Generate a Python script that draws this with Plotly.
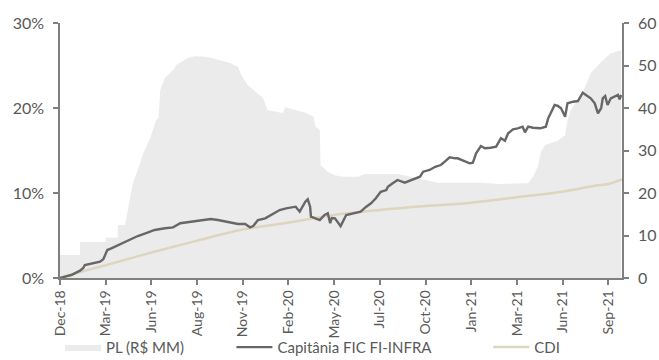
import plotly.graph_objects as go

# Trading-day index (0 = Dec-18) and month labels placed every 57 sessions
tick_days = [0, 57, 114, 171, 228, 285, 342, 399, 456, 513, 570, 627, 684]
tick_labels = ["Dec-18", "Mar-19", "Jun-19", "Aug-19", "Nov-19", "Feb-20", "May-20",
               "Jul-20", "Oct-20", "Jan-21", "Mar-21", "Jun-21", "Sep-21"]

# Fund net assets, R$ millions (right axis)
pl_days = [0, 25, 25, 57, 57, 72, 72, 81, 83, 91, 97, 104, 113, 120, 123, 125, 131, 141, 145,
           160, 168, 178, 188, 197, 212, 222, 226, 234, 244, 253, 259, 268, 278, 281, 293, 306,
           316, 319, 324, 325, 334, 343, 353, 372, 380, 421, 438, 455, 471, 527, 546, 584, 590,
           596, 600, 605, 621, 630, 633, 637, 646, 655, 662, 675, 687, 700]
pl_values = [5.4, 5.4, 8.5, 8.5, 9.5, 9.5, 12.5, 12.5, 14.4, 22.4, 25.4, 29.4, 33.2, 37.2, 37.6,
             44.2, 47.1, 48.9, 50.1, 51.8, 52.2, 52.1, 51.8, 51.3, 50.6, 49.7, 47.8, 45.4, 43.8,
             42.4, 39.5, 39.1, 38.8, 40.2, 39.5, 38.9, 38.0, 35.6, 34.8, 26.6, 25.0, 24.2, 23.8,
             23.8, 24.5, 24.5, 23.8, 23.1, 22.4, 22.4, 22.1, 22.3, 23.8, 26.2, 29.7, 31.3, 32.3,
             33.6, 37.2, 39.5, 41.9, 45.0, 48.2, 50.9, 52.9, 53.6]

# Cumulative return of Capitânia FIC FI-INFRA, % (left axis)
fund_days = [0, 14, 25, 29, 31, 39, 50, 54, 56, 59, 64, 76, 87, 97, 110, 118, 131, 141, 150, 160,
             172, 181, 188, 197, 207, 213, 222, 231, 237, 241, 247, 256, 263, 274, 282, 294, 299,
             306, 309, 312, 313, 319, 324, 330, 334, 337, 339, 343, 350, 357, 368, 375, 382, 388,
             394, 400, 407, 409, 415, 421, 430, 440, 449, 453, 461, 468, 475, 480, 486, 493, 496,
             503, 511, 515, 519, 525, 530, 537, 544, 550, 555, 559, 565, 571, 577, 580, 584, 590,
             599, 606, 609, 612, 617, 621, 625, 630, 633, 640, 646, 652, 656, 662, 667, 671, 675,
             677, 680, 683, 687, 692, 696, 698, 700]
fund_values = [0.0, 0.35, 0.86, 1.18, 1.53, 1.73, 1.92, 2.2, 2.71, 3.29, 3.49, 4.0, 4.47, 4.94,
               5.38, 5.65, 5.85, 5.96, 6.44, 6.55, 6.71, 6.82, 6.94, 6.82, 6.62, 6.51, 6.35, 6.35,
               5.96, 6.12, 6.82, 7.02, 7.41, 8.0, 8.2, 8.39, 7.8, 8.98, 9.26, 8.39, 7.21, 7.02,
               6.82, 7.41, 7.61, 6.44, 7.06, 7.02, 6.1, 7.41, 7.68, 7.8, 8.39, 8.79, 9.38, 10.15,
               10.35, 10.74, 11.14, 11.53, 11.21, 11.61, 11.92, 12.51, 12.71, 13.09, 13.29, 13.68,
               14.2, 14.08, 14.08, 13.8, 13.49, 13.56, 14.67, 15.53, 15.26, 15.33, 15.45, 16.44,
               16.15, 17.02, 17.49, 17.61, 17.8, 17.14, 17.8, 17.68, 17.61, 17.8, 18.79, 19.38,
               20.35, 20.24, 19.96, 18.98, 20.55, 20.74, 20.82, 21.8, 21.53, 21.14, 20.55, 19.38,
               20.0, 21.14, 21.41, 20.35, 21.14, 21.33, 21.53, 21.02, 21.53]

# Cumulative CDI, % (left axis)
cdi_days = [0, 29, 57, 114, 171, 228, 284, 337, 399, 456, 513, 570, 626, 667, 684, 701]
cdi_values = [0.0, 0.8, 1.5, 3.0, 4.4, 5.7, 6.5, 7.35, 8.0, 8.47, 8.86, 9.5, 10.15, 10.85, 11.06, 11.6]

FONT = "Lato"
AXIS = "#808080"
TEXT = "#595959"

fig = go.Figure()

# Net assets sit on the base axis (drawn first, underneath); returns go on the overlay axis
fig.add_trace(go.Scatter(
    x=pl_days, y=pl_values, name="PL (R$ MM)", yaxis="y",
    mode="lines", line=dict(width=0, color="#ebebeb"),
    fill="tozeroy", fillcolor="#ebebeb", legend="legend",
))
fig.add_trace(go.Scatter(
    x=cdi_days, y=cdi_values, name="CDI", yaxis="y2", line_shape="spline",
    mode="lines", line=dict(width=2.5, color="#ddd5be"), legend="legend3",
))
fig.add_trace(go.Scatter(
    x=fund_days, y=fund_values, name="Capitânia FIC FI-INFRA", yaxis="y2",
    mode="lines", line=dict(width=2.4, color="#676767"), legend="legend2",
))

legend_common = dict(orientation="h", yanchor="middle", y=-0.272, xanchor="left",
                     font=dict(family=FONT, size=15, color=TEXT),
                     bgcolor="rgba(0,0,0,0)", itemwidth=36)

axis_common = dict(showgrid=False, zeroline=False, showline=True, linecolor=AXIS,
                   linewidth=1.5, ticks="outside", ticklen=5, tickcolor=AXIS,
                   tickwidth=1.5, automargin=False)

fig.update_layout(
    width=659, height=360,
    margin=dict(l=60, r=37, t=23, b=82, autoexpand=False),
    paper_bgcolor="white", plot_bgcolor="white",
    font=dict(family=FONT, color=TEXT),
    showlegend=True,
    legend=dict(legend_common, x=0.0),
    legend2=dict(legend_common, x=0.305),
    legend3=dict(legend_common, x=0.762),
    xaxis=dict(
        axis_common, range=[0, 701], tickvals=tick_days, ticktext=tick_labels,
        tickangle=-90, tickfont=dict(family=FONT, size=14, color=TEXT),
    ),
    yaxis=dict(
        axis_common, range=[0, 60], dtick=10, side="right",
        tickfont=dict(family=FONT, size=16, color=TEXT), ticklabelstandoff=6,
    ),
    yaxis2=dict(
        axis_common, range=[0, 30], tickvals=[0, 10, 20, 30],
        ticktext=["0%", "10%", "20%", "30%"], overlaying="y", side="left",
        tickfont=dict(family=FONT, size=16, color=TEXT), ticklabelstandoff=6,
    ),
)

fig.write_html("out.html")
